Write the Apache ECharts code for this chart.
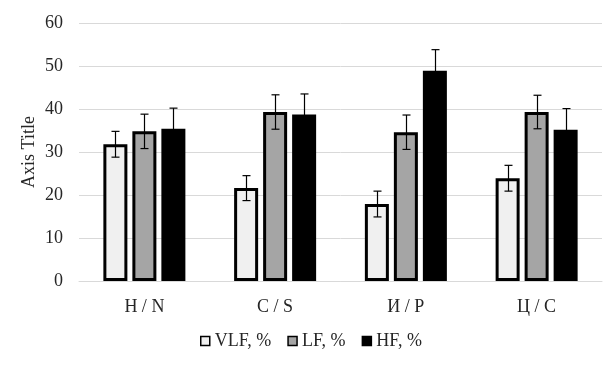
<!DOCTYPE html>
<html><head><meta charset="utf-8">
<script src="https://cdn.jsdelivr.net/npm/echarts@6/dist/echarts.min.js"></script>
<style>html,body{margin:0;padding:0;background:#fff}#c{width:612px;height:367px}</style>
</head><body><div id="c"></div>
<script>
const categories = ['Н / N', 'С / S', 'И / P', 'Ц / C'];
const seriesNames = ['VLF, %', 'LF, %', 'HF, %'];
const vlf = [31.8, 21.6, 17.9, 23.9];
const lf = [34.8, 39.3, 34.6, 39.3];
const hf = [35.4, 38.7, 48.9, 35.2];
const vlfErr = [3.0, 2.9, 3.0, 3.0];
const lfErr = [4.0, 4.0, 4.0, 3.9];
const hfErr = [4.8, 4.8, 4.9, 4.9];
const yTicks = [0, 10, 20, 30, 40, 50, 60];
const yTitle = 'Axis Title';

const values = [vlf, lf, hf];
const errs = [vlfErr, lfErr, hfErr];
const fills = ['#f0f0f0', '#a5a5a5', '#000000'];
const font = 'Liberation Serif';
const textColor = '#262626';
const BAR_W = 24, GAP = 5;

const chart = echarts.init(document.getElementById('c'), null, {renderer: 'canvas'});
const series = [];
seriesNames.forEach((name, i) => {
  series.push({
    name: name, type: 'bar', barWidth: BAR_W, barGap: (GAP / BAR_W * 100) + '%',
    data: values[i],
    itemStyle: {color: fills[i], borderColor: '#000', borderWidth: 3},
    z: 2
  });
});
seriesNames.forEach((name, i) => {
  series.push({
    type: 'custom', name: name + ' err',
    data: values[i].map((v, k) => [k, v, errs[i][k]]),
    z: 5,
    renderItem: function (params, api) {
      const k = api.value(0), v = api.value(1), e = api.value(2);
      const off = (i - 1) * (BAR_W + GAP);
      const top = api.coord([k, v + e]);
      const bot = api.coord([k, v - e]);
      const x = Math.round(top[0] + off) + 0.5;
      const cw = 4;
      const st = {stroke: '#000', lineWidth: 1.2};
      return {type: 'group', children: [
        {type: 'line', shape: {x1: x, y1: top[1], x2: x, y2: bot[1]}, style: st},
        {type: 'line', shape: {x1: x - cw, y1: top[1], x2: x + cw, y2: top[1]}, style: st},
        {type: 'line', shape: {x1: x - cw, y1: bot[1], x2: x + cw, y2: bot[1]}, style: st}
      ]};
    },
    silent: true
  });
});

chart.setOption({
  animation: false,
  grid: {left: 79, right: 10, top: 23, bottom: 86},
  xAxis: {
    type: 'category', data: categories,
    axisLine: {lineStyle: {color: '#d9d9d9', width: 1}},
    axisTick: {show: false},
    axisLabel: {color: textColor, fontFamily: font, fontSize: 18, margin: 17}
  },
  yAxis: {
    type: 'value', min: yTicks[0], max: yTicks[yTicks.length - 1], interval: 10,
    axisLine: {show: false}, axisTick: {show: false},
    axisLabel: {color: textColor, fontFamily: font, fontSize: 18, margin: 16},
    splitLine: {lineStyle: {color: '#d9d9d9', width: 1}}
  },
  graphic: [{
    type: 'text', x: 29, y: 152, rotation: Math.PI / 2,
    style: {text: yTitle, fill: textColor, font: '18px "Liberation Serif"',
            textAlign: 'center', textVerticalAlign: 'middle'}
  }],
  legend: {
    data: seriesNames, top: 327, left: 195,
    icon: 'rect', itemWidth: 9, itemHeight: 9, itemGap: 16,
    textStyle: {color: textColor, fontFamily: font, fontSize: 18},
    itemStyle: {borderWidth: 1.5, borderColor: '#000'}
  },
  series: series
});
</script></body></html>
